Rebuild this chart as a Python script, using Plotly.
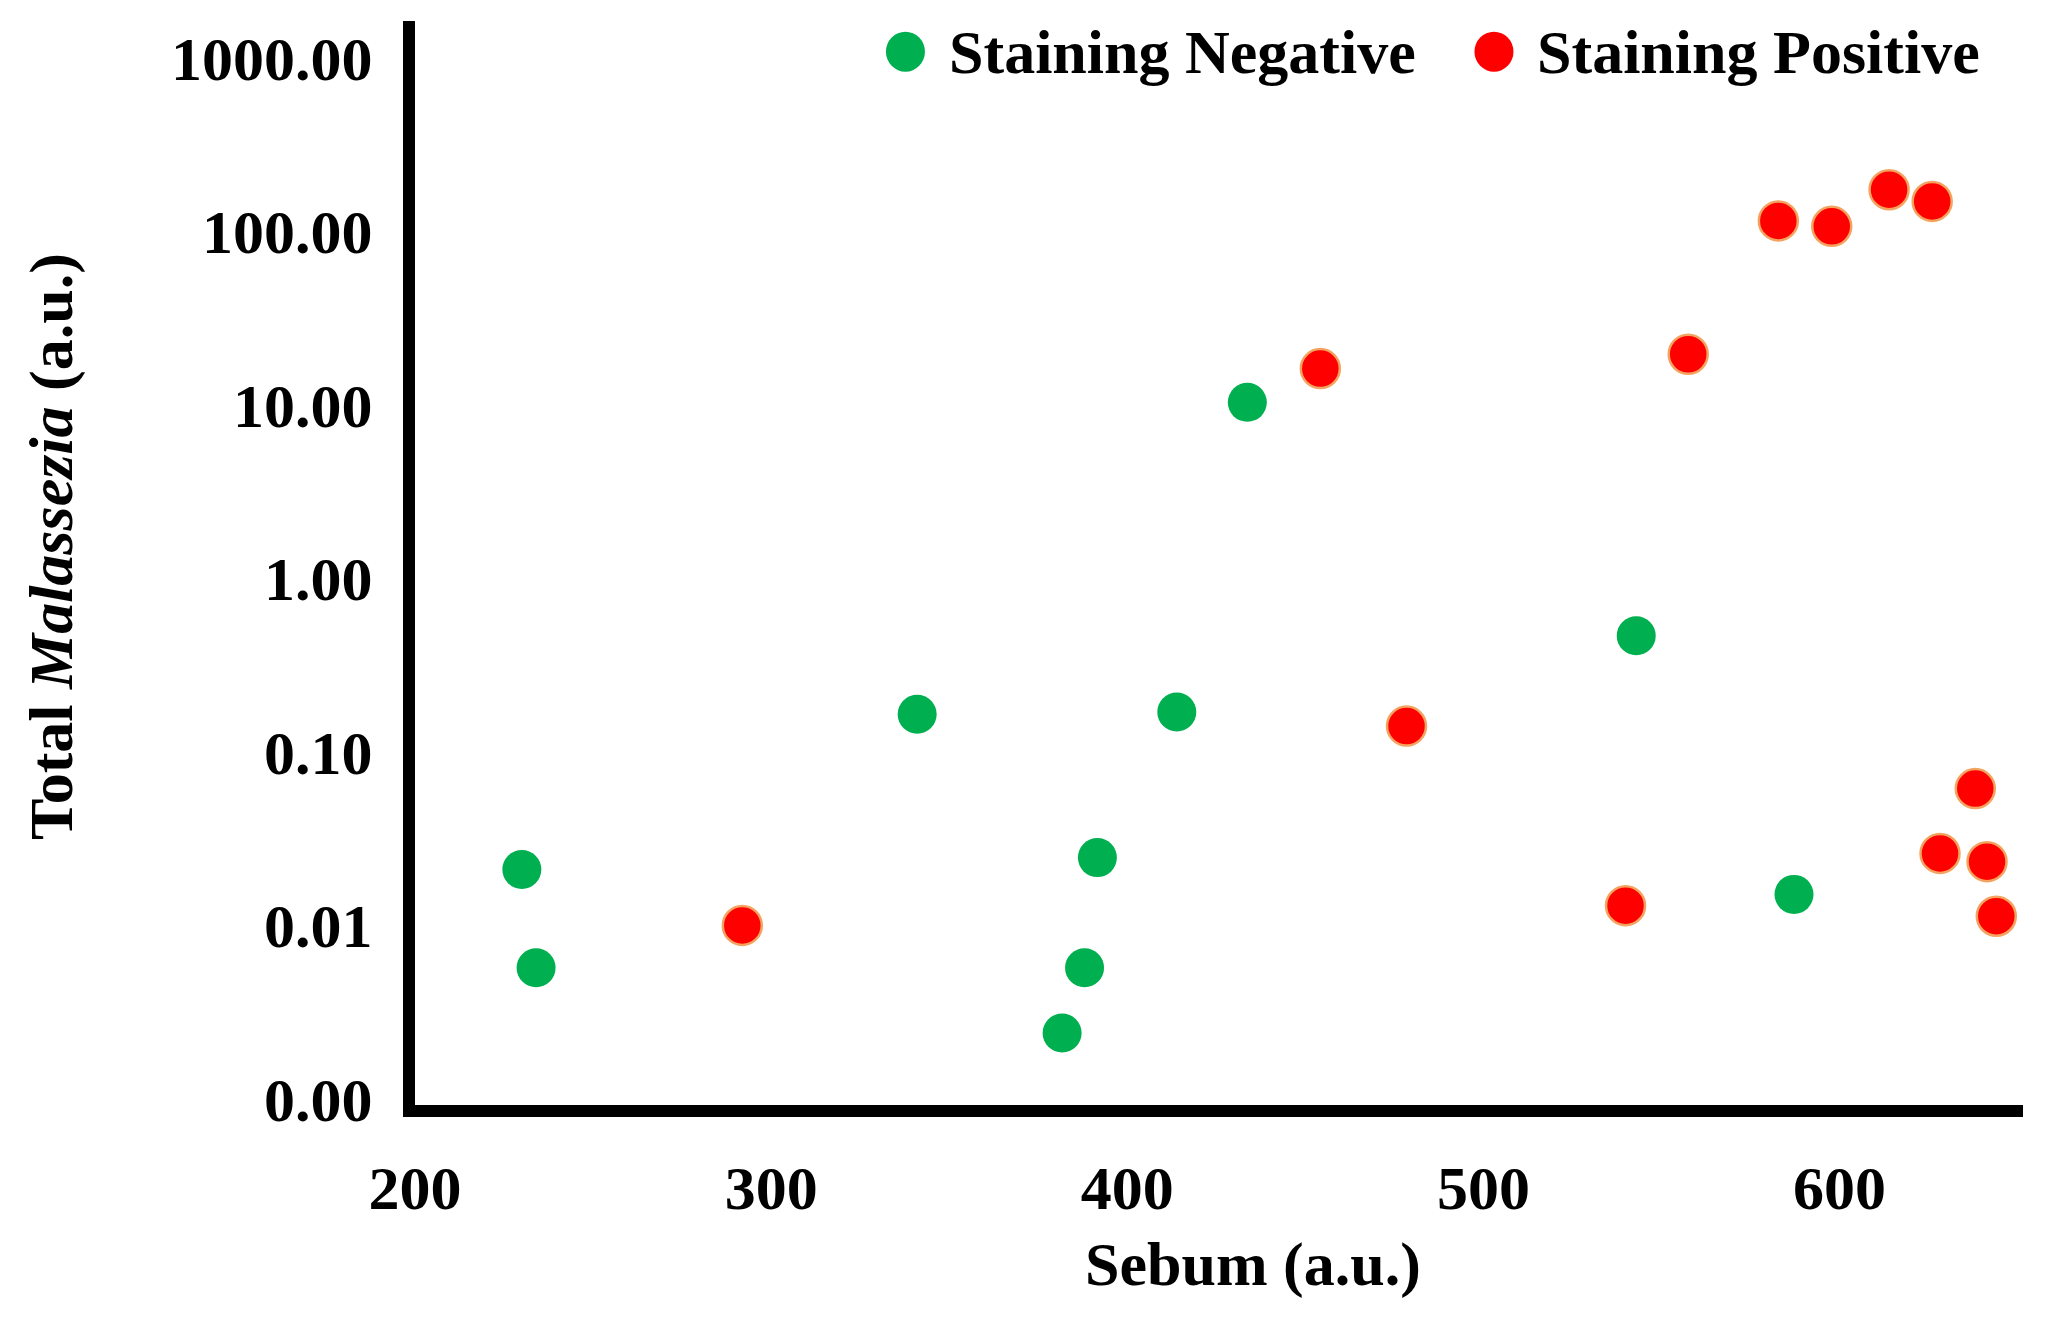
import plotly.graph_objects as go

# Data
neg_sebum = [230, 234, 341, 381.7, 388, 391.6, 413.9, 433.7, 542.9, 587.2]
neg_malassezia = [0.021, 0.0057, 0.165, 0.0024, 0.0057, 0.0246, 0.17, 10.35, 0.467, 0.0151]

pos_sebum = [291.9, 454.2, 478.4, 539.9, 557.5, 582.8, 597.8, 613.9, 626.0, 628.2, 638.1, 641.4, 644.0]
pos_malassezia = [0.010, 16.2, 0.141, 0.013, 19.6, 115, 107, 174, 149, 0.026, 0.0615, 0.0233, 0.0113]

y_tickvals = [0.001, 0.01, 0.1, 1, 10, 100, 1000]
y_ticktext = ["0.00", "0.01", "0.10", "1.00", "10.00", "100.00", "1000.00"]
x_tickvals = [200, 300, 400, 500, 600]

series_names = ["Staining Negative", "Staining Positive"]
series_colors = ["#00B050", "#FF0000"]

FONT = "Liberation Serif"
SIZE = 62
TICKSIZE = 62

fig = go.Figure()
fig.add_trace(go.Scatter(
    x=neg_sebum, y=neg_malassezia, mode="markers", name=series_names[0],
    marker=dict(color=series_colors[0], size=39, line=dict(color=series_colors[0], width=0)),
))
fig.add_trace(go.Scatter(
    x=pos_sebum, y=pos_malassezia, mode="markers", name=series_names[1],
    marker=dict(color=series_colors[1], size=39, line=dict(color="#F4A460", width=2.5)),
))

bold = dict(family=FONT, size=SIZE, color="black", weight="bold")

# Custom legend (large symbols like the reference)
legend_items = [(0.3050, 0.3308), (0.6710, 0.6965)]
shapes = []
annotations = []
for (cx, tx), name, col in zip(legend_items, series_names, series_colors):
    shapes.append(dict(
        type="circle", xref="paper", yref="paper",
        xsizemode="pixel", ysizemode="pixel", xanchor=cx, yanchor=0.9717,
        x0=-19.5, x1=19.5, y0=-20, y1=20,
        fillcolor=col, line=dict(width=0),
    ))
    annotations.append(dict(
        text=name, xref="paper", yref="paper", x=tx, y=0.9717,
        xanchor="left", yanchor="middle", showarrow=False, font=bold,
    ))

# Axis titles
annotations.append(dict(
    text="Sebum (a.u.)", xref="paper", yref="paper", x=0.5211, y=-0.1476,
    xanchor="center", yanchor="middle", showarrow=False, font=bold,
))
annotations.append(dict(
    text="Total <i>Malassezia</i> (a.u.)", xref="paper", yref="paper", x=-0.2257, y=0.5148,
    xanchor="center", yanchor="middle", showarrow=False, font=bold, textangle=-90,
))

fig.update_layout(
    width=2038, height=1312,
    paper_bgcolor="white", plot_bgcolor="white",
    margin=dict(l=407, r=23, t=13, b=215),
    font=bold,
    showlegend=False,
    shapes=shapes,
    annotations=annotations,
    xaxis=dict(
        range=[200, 651.5], tickvals=x_tickvals, showgrid=False, zeroline=False,
        showline=True, linecolor="black", linewidth=12, ticks="",
        ticklabelstandoff=18,
        tickfont=dict(family=FONT, size=TICKSIZE, color="black", weight="bold"),
    ),
    yaxis=dict(
        type="log", range=[-3.035, 3.213], tickvals=y_tickvals, ticktext=y_ticktext,
        showgrid=False, zeroline=False,
        showline=True, linecolor="black", linewidth=12, ticks="",
        ticklabelstandoff=18,
        tickfont=dict(family=FONT, size=TICKSIZE, color="black", weight="bold"),
    ),
)

fig.write_html("out.html")
